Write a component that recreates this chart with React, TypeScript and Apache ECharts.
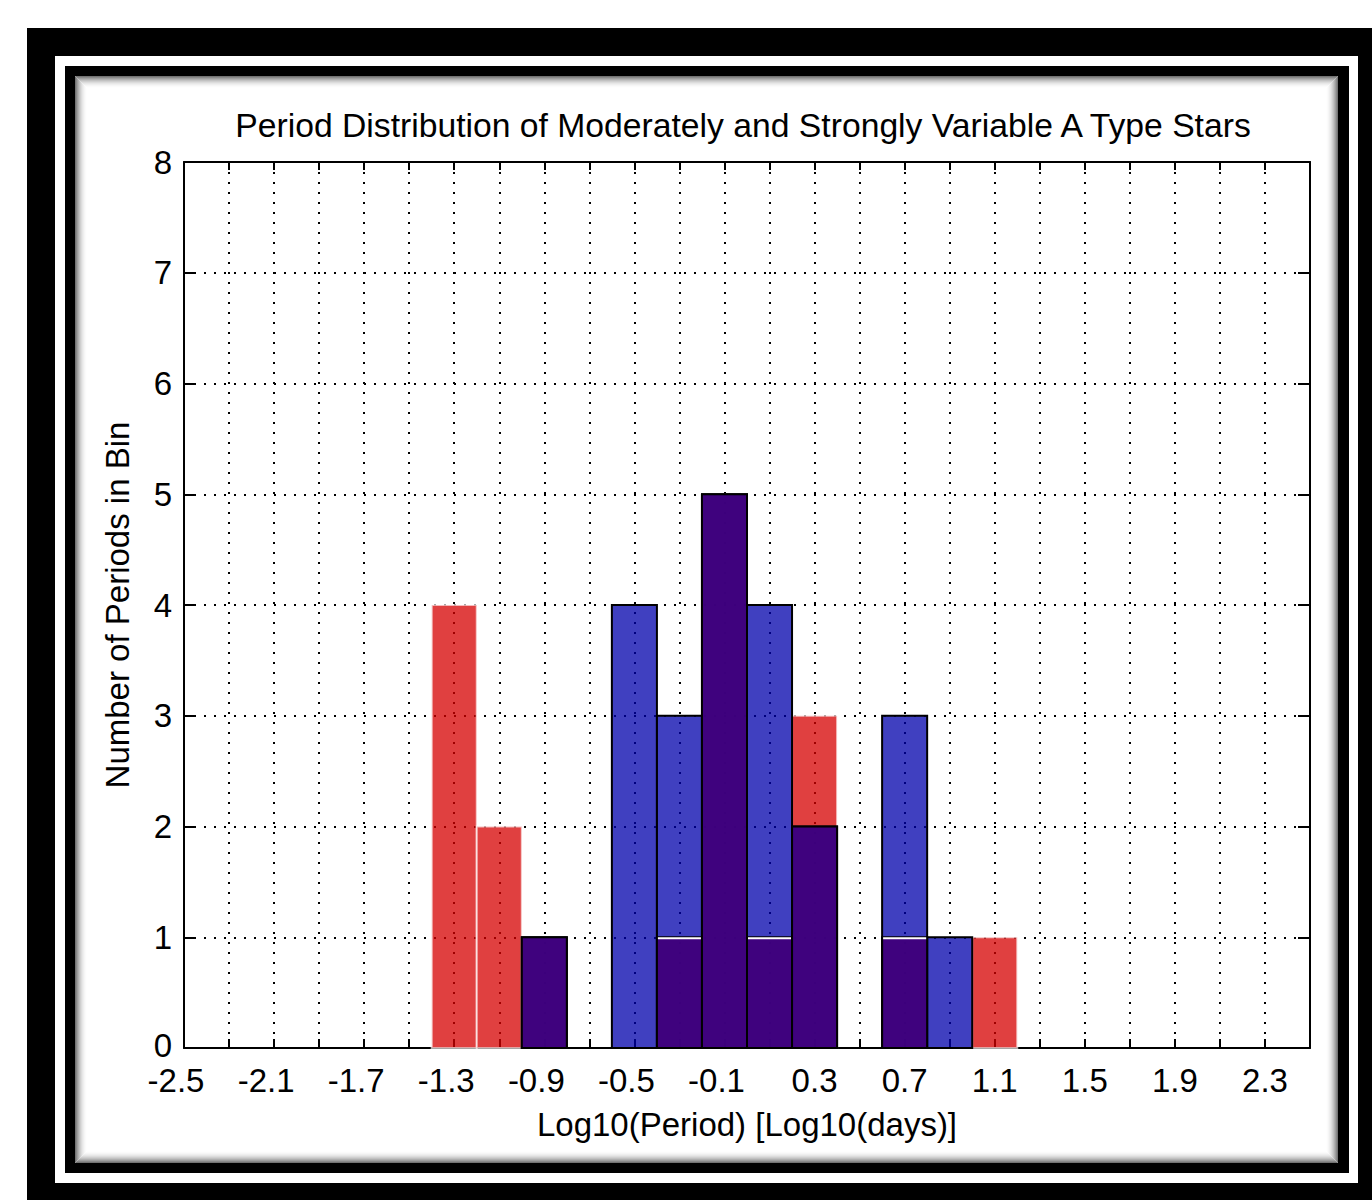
import React, { useEffect, useRef } from "react";
import * as echarts from "echarts";

// ---- data ----
const binCenters = [-1.3, -1.1, -0.9, -0.7, -0.5, -0.3, -0.1, 0.1, 0.3, 0.5, 0.7, 0.9, 1.1];
const moderateCounts = [4, 2, 1, 0, 0, 1, 5, 1, 3, 0, 1, 0, 1]; // red histogram
const strongCounts = [0, 0, 1, 0, 4, 3, 5, 4, 2, 0, 3, 1, 0]; // blue histogram
const binWidth = 0.2;
const xTickLabels = ["-2.5", "-2.1", "-1.7", "-1.3", "-0.9", "-0.5", "-0.1", "0.3", "0.7", "1.1", "1.5", "1.9", "2.3"];
const yTickLabels = ["0", "1", "2", "3", "4", "5", "6", "7", "8"];

const TITLE = "Period Distribution of Moderately and Strongly Variable A Type Stars";
const X_NAME = "Log10(Period) [Log10(days)]";
const Y_NAME = "Number of Periods in Bin";

const FONT = "'Liberation Sans', Arial, Helvetica, sans-serif";
const FS = 33;

const RED_FILL = "rgba(214,0,0,0.75)";
const BLUE_FILL = "rgba(0,0,171,0.75)";
const PURPLE_FILL = "rgba(64,0,124,0.86)";

function rectFor(api: any, center: number, h: number) {
  const p0 = api.coord([center - binWidth / 2, h]);
  const p1 = api.coord([center + binWidth / 2, 0]);
  return { x: p0[0], y: p0[1], width: p1[0] - p0[0], height: p1[1] - p0[1] };
}

function buildFrame() {
  const els: any[] = [
    { type: "rect", z: -100, silent: true, shape: { x: 27, y: 28, width: 1345, height: 1172 }, style: { fill: "#000" } },
    { type: "rect", z: -99, silent: true, shape: { x: 55, y: 56, width: 1303, height: 1127 }, style: { fill: "#fff" } },
    { type: "rect", z: -98, silent: true, shape: { x: 65, y: 66, width: 1284, height: 1107 }, style: { fill: "#000" } },
    { type: "rect", z: -97, silent: true, shape: { x: 75, y: 76, width: 1263, height: 1087 }, style: { fill: "#fff" } },
  ];
  const n = 12;
  for (let i = 0; i < n; i++) {
    const t = 1 - i / n;
    const g = Math.round(255 - 140 * t * t);
    els.push({
      type: "rect",
      z: -96,
      silent: true,
      shape: { x: 75 + i + 0.5, y: 76 + i + 0.5, width: 1263 - 2 * i - 1, height: 1087 - 2 * i - 1 },
      style: { fill: "none", stroke: `rgb(${g},${g},${g})`, lineWidth: 1 },
    });
  }
  els.push({
    type: "text",
    z: 10,
    x: 743,
    y: 125,
    style: {
      text: TITLE,
      fontSize: 33.7,
      fontFamily: FONT,
      fill: "#000",
      textAlign: "center",
      textVerticalAlign: "middle",
    },
  });
  return els;
}

export default function App() {
  const ref = useRef<HTMLDivElement>(null);

  useEffect(() => {
    if (!ref.current) return;
    const chart = echarts.init(ref.current, null, { renderer: "svg" });

    const dotted = { color: "#000", width: 2, type: [2, 8] as any };
    const axisLine = { show: true, onZero: false, lineStyle: { color: "#000", width: 2 } };

    const option: any = {
      animation: false,
      backgroundColor: "#fff",
      textStyle: { fontFamily: FONT },
      graphic: { elements: buildFrame() },
      grid: { left: 184, top: 162, width: 1126, height: 886, containLabel: false },
      xAxis: [
        {
          type: "value",
          position: "bottom",
          min: -2.5,
          max: 2.5,
          interval: 0.2,
          axisLine,
          axisTick: { show: true, inside: true, length: 9, lineStyle: { color: "#000", width: 2 } },
          splitLine: { show: true, lineStyle: dotted },
          axisLabel: {
            show: true,
            margin: 19,
            fontSize: FS,
            lineHeight: 26,
            color: "#000",
            fontFamily: FONT,
            formatter: (v: number) => {
              const s = v.toFixed(1);
              if (!xTickLabels.includes(s)) return "";
              return v < 0 ? `{neg|${s}}` : s;
            },
            rich: { neg: { fontSize: FS, lineHeight: 26, fontFamily: FONT, color: "#000", padding: [0, 16, 0, 0] } },
          },
          name: X_NAME,
          nameLocation: "middle",
          nameGap: 60,
          nameTextStyle: { fontSize: FS, color: "#000", fontFamily: FONT },
        },
        {
          type: "value",
          position: "top",
          min: -2.5,
          max: 2.5,
          interval: 0.2,
          axisLine,
          axisTick: { show: true, inside: true, length: 8, lineStyle: { color: "#000", width: 2 } },
          splitLine: { show: false },
          axisLabel: { show: false },
        },
      ],
      yAxis: [
        {
          type: "value",
          position: "left",
          min: 0,
          max: 8,
          interval: 1,
          axisLine,
          axisTick: { show: true, inside: true, length: 12, lineStyle: { color: "#000", width: 2 } },
          splitLine: { show: true, lineStyle: dotted },
          axisLabel: {
            show: true,
            margin: 12,
            fontSize: FS,
            lineHeight: 26,
            color: "#000",
            fontFamily: FONT,
            formatter: (v: number) => {
              const s = String(v);
              if (!yTickLabels.includes(s)) return "";
              return v === 0 ? `{low|${s}}` : s;
            },
            rich: { low: { fontSize: FS, lineHeight: 26, fontFamily: FONT, color: "#000", padding: [0, 0, 5, 0] } },
          },
          name: Y_NAME,
          nameLocation: "middle",
          nameGap: 50,
          nameTextStyle: { fontSize: FS, color: "#000", fontFamily: FONT },
        },
        {
          type: "value",
          position: "right",
          min: 0,
          max: 8,
          interval: 1,
          axisLine,
          axisTick: { show: true, inside: true, length: 12, lineStyle: { color: "#000", width: 2 } },
          splitLine: { show: false },
          axisLabel: { show: false },
        },
      ],
      series: [
        {
          name: "Moderately variable",
          type: "custom",
          xAxisIndex: 0,
          yAxisIndex: 0,
          z: 2,
          data: binCenters.map((c, i) => [c, moderateCounts[i]]),
          renderItem: (_p: any, api: any) => {
            const h = api.value(1);
            if (!h) return null;
            return {
              type: "rect",
              shape: rectFor(api, api.value(0), h),
              style: { fill: RED_FILL, stroke: "rgba(255,255,255,0.65)", lineWidth: 2 },
            };
          },
        },
        {
          name: "Strongly variable",
          type: "custom",
          xAxisIndex: 0,
          yAxisIndex: 0,
          z: 3,
          data: binCenters.map((c, i) => [c, strongCounts[i]]),
          renderItem: (_p: any, api: any) => {
            const h = api.value(1);
            if (!h) return null;
            return {
              type: "rect",
              shape: rectFor(api, api.value(0), h),
              style: { fill: BLUE_FILL, stroke: "#000", lineWidth: 2 },
            };
          },
        },
        {
          name: "Both",
          type: "custom",
          xAxisIndex: 0,
          yAxisIndex: 0,
          z: 4,
          data: binCenters.map((c, i) => [c, moderateCounts[i], strongCounts[i]]),
          renderItem: (_p: any, api: any) => {
            const m = api.value(1);
            const s = api.value(2);
            const h = Math.min(m, s);
            if (!h) return null;
            const r = rectFor(api, api.value(0), h);
            const children: any[] = [
              { type: "rect", shape: r, style: { fill: PURPLE_FILL, stroke: "#000", lineWidth: 2 } },
            ];
            if (s > m) {
              children.push({
                type: "line",
                shape: { x1: r.x + 1, y1: r.y + 1, x2: r.x + r.width - 1, y2: r.y + 1 },
                style: { stroke: "#fff", lineWidth: 2 },
              });
            }
            return { type: "group", children };
          },
        },
      ],
    };

    chart.setOption(option);
    return () => chart.dispose();
  }, []);

  return (
    <div
      ref={ref}
      style={{ position: "fixed", left: 0, top: 0, width: 1372, height: 1200 }}
    />
  );
}
